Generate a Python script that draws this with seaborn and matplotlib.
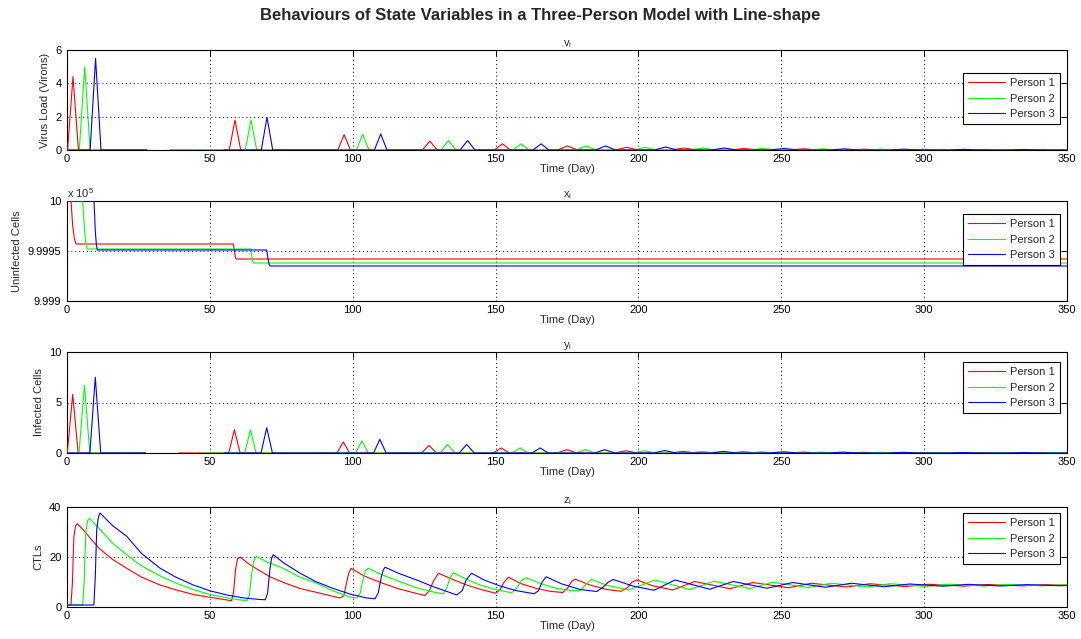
import pandas as pd
import matplotlib
matplotlib.use("Agg")
import matplotlib.pyplot as plt
from matplotlib.lines import Line2D
import seaborn as sns

# ---------------------------------------------------------------- data
persons = ["Person 1", "Person 2", "Person 3"]
colors = ["#ff0000", "#00ff00", "#0000ff"]
x_ticks = [0, 50, 100, 150, 200, 250, 300, 350]

# virus load v_i : spike times (day) and heights
v_t_p1 = [2.1, 58.8, 97.0, 127.0, 152.4, 175.2, 195.9, 216.0, 237.0, 258.0, 279.0, 300.0, 321.0, 342.0]
v_h_p1 = [4.4, 1.8, 0.92, 0.53, 0.37, 0.24, 0.16, 0.12, 0.09, 0.07, 0.05, 0.04, 0.03, 0.03]
v_t_p2 = [6.2, 64.4, 103.5, 133.5, 158.9, 181.7, 202.3, 222.5, 243.5, 264.5, 285.0, 306.0, 327.0, 346.0]
v_h_p2 = [5.0, 1.8, 0.94, 0.57, 0.37, 0.24, 0.16, 0.12, 0.09, 0.07, 0.05, 0.04, 0.03, 0.03]
v_t_p3 = [10.0, 70.0, 109.8, 140.2, 165.9, 188.5, 209.5, 230.0, 251.0, 272.0, 293.0, 314.0, 335.0]
v_h_p3 = [5.5, 1.96, 0.96, 0.57, 0.37, 0.24, 0.18, 0.12, 0.09, 0.07, 0.05, 0.04, 0.03]
v_gaps = [(28.0, 36.0), (28.0, 47.0), (28.0, 55.0)]

# infected cells y_i : spike times (day) and heights
y_t_p1 = [2.0, 58.6, 96.7, 126.7, 152.0, 175.0, 195.6, 215.7, 236.7, 257.7, 278.7, 299.7, 320.7, 341.7]
y_h_p1 = [5.8, 2.3, 1.1, 0.75, 0.5, 0.33, 0.22, 0.16, 0.12, 0.09, 0.07, 0.05, 0.04, 0.04]
y_t_p2 = [6.1, 64.2, 103.2, 133.2, 158.6, 181.4, 202.0, 222.2, 243.2, 264.2, 284.7, 305.7, 326.7, 345.7]
y_h_p2 = [6.7, 2.3, 1.2, 0.85, 0.5, 0.33, 0.22, 0.16, 0.12, 0.09, 0.07, 0.05, 0.04, 0.04]
y_t_p3 = [9.9, 69.9, 109.5, 139.9, 165.6, 188.2, 209.2, 229.7, 250.7, 271.7, 292.7, 313.7, 334.7]
y_h_p3 = [7.5, 2.5, 1.35, 0.85, 0.5, 0.33, 0.24, 0.16, 0.12, 0.09, 0.07, 0.05, 0.04]
y_gaps = [(27.5, 39.0), (27.5, 48.0), (27.5, 55.0)]

# spike half-widths (day) for successive waves
spike_halfwidth = [1.9, 2.0, 2.2, 2.6, 2.8, 3.5, 4.0, 4.5, 5.0, 5.0, 5.0, 5.0, 5.0, 5.0]

# uninfected cells x_i (cells)
x_t_p1 = [0.0, 1.4, 2.0, 2.6, 3.2, 58.2, 58.6, 59.0, 59.3, 350.0]
x_c_p1 = [1000000, 1000000, 999975, 999962, 999957, 999957, 999950, 999943, 999942, 999942]
x_t_p2 = [0.0, 5.5, 6.1, 6.6, 7.1, 64.3, 64.7, 65.0, 65.3, 350.0]
x_c_p2 = [1000000, 1000000, 999972, 999958, 999952, 999952, 999945, 999940, 999938, 999938]
x_t_p3 = [0.0, 9.45, 9.9, 10.3, 10.6, 69.9, 70.3, 70.7, 71.0, 350.0]
x_c_p3 = [1000000, 1000000, 999970, 999956, 999951, 999951, 999943, 999937, 999935, 999935]

# CTLs z_i
z_t_p1 = [0.0, 1.4, 1.9, 2.4, 3.0, 3.6, 6.0, 8.5, 11.5, 16.0, 20.9, 26.0, 32.6, 38.0, 44.2, 50.0,
          56.0, 57.6, 58.3, 59.0, 59.7, 60.6, 64.1, 71.0, 76.0, 81.6, 89.0, 95.6, 96.9, 97.8, 98.6,
          99.4, 104.0, 110.7, 116.0, 122.4, 125.3, 126.8, 128.3, 130.0, 134.0, 139.9, 144.0, 150.0,
          151.6, 153.0, 154.5, 159.0, 164.4, 169.0, 173.5, 175.2, 176.5, 177.8, 183.0, 188.9, 194.0,
          196.2, 197.8, 199.4, 205.0, 212.0, 219.8, 232.0, 240.0, 252.5, 260.5, 273.0, 281.0, 293.5,
          301.5, 314.0, 322.0, 334.5, 342.5, 350.0]
z_v_p1 = [0.8, 0.8, 10.0, 28.0, 32.5, 33.3, 30.5, 27.0, 23.2, 19.0, 15.5, 12.0, 8.8, 6.9, 5.0, 3.9,
          2.8, 2.5, 6.0, 15.0, 19.3, 20.0, 16.8, 12.1, 9.7, 7.4, 5.4, 3.6, 4.5, 9.5, 13.5,
          15.5, 12.4, 9.4, 7.3, 5.4, 4.6, 6.5, 10.5, 13.5, 11.5, 8.8, 7.3, 5.5,
          7.0, 10.0, 11.9, 9.3, 7.4, 6.3, 5.8, 7.5, 10.0, 11.2, 8.8, 7.0, 6.3,
          7.8, 10.0, 10.8, 8.5, 6.8, 10.2, 7.3, 9.8, 7.7, 9.5, 8.0, 9.3, 8.2,
          9.1, 8.35, 9.0, 8.45, 8.9, 8.7]
z_t_p2 = [0.0, 5.5, 6.0, 6.6, 7.2, 7.8, 9.5, 11.55, 16.0, 20.9, 26.0, 32.6, 38.0, 44.2, 50.0, 55.9,
          60.0, 63.0, 63.8, 64.6, 65.4, 66.3, 70.0, 75.7, 81.0, 87.4, 93.0, 99.0, 101.4, 102.6, 103.6,
          104.5, 105.5, 110.0, 116.6, 122.0, 128.2, 131.7, 132.9, 134.0, 135.2, 140.0, 144.6, 150.0,
          155.6, 157.4, 159.0, 160.7, 166.0, 171.4, 176.0, 179.6, 181.6, 183.6, 189.0, 196.5, 205.8,
          218.0, 226.5, 239.0, 247.0, 259.5, 267.5, 280.0, 288.0, 300.5, 308.5, 321.0, 329.0, 341.5,
          349.5, 350.0]
z_v_p2 = [0.8, 0.8, 10.0, 30.0, 34.5, 35.4, 33.5, 31.0, 25.5, 20.9, 16.5, 12.4, 9.6, 7.0, 5.0, 3.7,
          2.9, 2.6, 4.5, 13.0, 18.5, 20.3, 18.0, 15.5, 12.2, 9.5, 6.5, 4.0, 3.6, 5.5, 11.0,
          14.5, 15.5, 13.0, 10.1, 7.8, 6.0, 5.3, 7.5, 11.5, 13.7, 11.0, 8.8, 7.0,
          5.7, 7.5, 10.5, 11.7, 9.3, 7.4, 6.7, 6.5, 9.0, 11.0, 8.7, 6.8, 10.8,
          7.0, 10.3, 7.4, 9.9, 7.8, 9.5, 8.05, 9.3, 8.25, 9.1, 8.4, 9.0, 8.5,
          8.9, 8.9]
z_t_p3 = [0.0, 9.4, 9.9, 10.4, 11.0, 11.55, 16.0, 20.9, 26.0, 32.6, 38.0, 44.2, 50.0, 55.9, 62.0,
          67.6, 69.4, 70.2, 71.0, 71.6, 72.2, 76.0, 81.6, 87.0, 93.2, 99.0, 104.9, 107.8, 108.9,
          110.0, 110.7, 111.3, 116.0, 122.4, 128.0, 133.0, 136.4, 138.3, 139.8, 141.6, 146.0, 151.6,
          157.0, 163.5, 165.0, 166.3, 167.7, 173.0, 179.6, 185.4, 187.5, 189.5, 191.2, 198.0, 205.5,
          212.8, 225.0, 233.2, 245.0, 254.0, 265.5, 274.5, 286.0, 295.0, 306.5, 315.5, 327.0, 336.0,
          347.5, 350.0]
z_v_p3 = [0.8, 0.8, 12.0, 31.0, 36.0, 37.6, 32.5, 28.3, 21.5, 15.5, 12.0, 8.8, 6.5, 4.8, 3.6,
          3.0, 2.9, 5.5, 15.0, 19.5, 20.9, 17.5, 13.5, 10.2, 7.4, 5.2, 3.6, 3.3, 5.5,
          12.0, 14.8, 15.9, 13.5, 10.8, 8.2, 6.2, 4.8, 6.5, 11.0, 13.5, 10.8, 8.4,
          6.6, 5.3, 6.5, 10.0, 12.1, 9.3, 7.0, 6.2, 7.8, 10.0, 11.0, 8.4, 6.7,
          10.8, 7.1, 10.2, 7.5, 9.8, 7.9, 9.5, 8.1, 9.2, 8.3, 9.05, 8.4, 8.95,
          8.5, 8.6]

T_END = 350.0


# ---------------------------------------------------------------- helpers
def spike_segments(times, heights, gap):
    """Baseline with triangular spikes, broken where the record is missing."""
    seg_a = [(0.0, 0.0)]
    seg_b = [(gap[1], 0.0)]
    for k, (tp, h) in enumerate(zip(times, heights)):
        w = spike_halfwidth[k]
        tri = [(tp - w, 0.0), (tp, h), (tp + w, 0.0)]
        (seg_a if tp < gap[0] else seg_b).extend(tri)
    seg_a.append((gap[0], 0.0))
    if seg_b[-1][0] < T_END:
        seg_b.append((T_END, 0.0))
    return [seg_a, seg_b]


def frame_from_segments(seg_lists):
    rows = []
    for person, segs in zip(persons, seg_lists):
        for s, seg in enumerate(segs):
            for t, val in seg:
                rows.append({"t": t, "val": val, "person": person, "seg": f"{person}-{s}"})
    return pd.DataFrame(rows)


def frame_from_series(ts, vs, scale=1.0):
    rows = []
    for person, t_arr, v_arr in zip(persons, ts, vs):
        for t, val in zip(t_arr, v_arr):
            rows.append({"t": t, "val": val / scale, "person": person, "seg": person})
    return pd.DataFrame(rows)


df_v = frame_from_segments([
    spike_segments(v_t_p1, v_h_p1, v_gaps[0]),
    spike_segments(v_t_p2, v_h_p2, v_gaps[1]),
    spike_segments(v_t_p3, v_h_p3, v_gaps[2]),
])
df_y = frame_from_segments([
    spike_segments(y_t_p1, y_h_p1, y_gaps[0]),
    spike_segments(y_t_p2, y_h_p2, y_gaps[1]),
    spike_segments(y_t_p3, y_h_p3, y_gaps[2]),
])
df_x = frame_from_series([x_t_p1, x_t_p2, x_t_p3], [x_c_p1, x_c_p2, x_c_p3], scale=1e5)
df_z = frame_from_series([z_t_p1, z_t_p2, z_t_p3], [z_v_p1, z_v_p2, z_v_p3])

# ---------------------------------------------------------------- style
sns.set_style("white")
plt.rcParams["font.family"] = ["Liberation Sans", "DejaVu Sans"]
plt.rcParams["mathtext.fontset"] = "custom"
plt.rcParams["mathtext.rm"] = "Liberation Sans"
plt.rcParams["mathtext.it"] = "Liberation Sans"

fig = plt.figure(figsize=(10.81, 6.39), dpi=100)
fig.suptitle("Behaviours of State Variables in a Three-Person Model with Line-shape",
             fontsize=12, fontweight="bold", y=0.988)

left, width = 67 / 1081, 1000 / 1081
panels = [
    # (df, top px, bottom px, title, ylabel, ylim, yticks, yticklabels, legend top frac)
    (df_v, 50, 150, "v$_\\mathrm{i}$", "Virus Load (Virons)", (0, 6), [0, 2, 4, 6], ["0", "2", "4", "6"], 0.77),
    (df_x, 201, 301, "x$_\\mathrm{i}$", "Uninfected Cells", (9.999, 10.0), [9.999, 9.9995, 10.0],
     ["9.999", "9.9995", "10"], 0.87),
    (df_y, 352, 453, "y$_\\mathrm{i}$", "Infected Cells", (0, 10), [0, 5, 10], ["0", "5", "10"], 0.90),
    (df_z, 507, 607, "z$_\\mathrm{i}$", "CTLs", (0, 40), [0, 20, 40], ["0", "20", "40"], 0.94),
]

palette = dict(zip(persons, colors))
handles = [Line2D([], [], color=c, lw=0.8) for c in colors]

for df, top, bot, title, ylabel, ylim, yt, ytl, leg_top in panels:
    ax = fig.add_axes([left, 1 - bot / 639, width, (bot - top) / 639])
    sns.lineplot(data=df, x="t", y="val", hue="person", units="seg", estimator=None,
                 sort=False, palette=palette, hue_order=persons, legend=False,
                 linewidth=0.8, zorder=3, ax=ax)
    ax.set_xlim(0, 350)
    ax.set_ylim(*ylim)
    ax.set_xticks(x_ticks)
    ax.set_xticklabels([str(v) for v in x_ticks])
    ax.set_yticks(yt)
    ax.set_yticklabels(ytl)
    ax.grid(True, linestyle=(0, (1, 3)), color="black", linewidth=0.7)
    ax.tick_params(direction="in", top=True, right=True, length=4, width=0.7,
                   labelsize=8, colors="black")
    ax.tick_params(axis="y", pad=4)
    ax.tick_params(axis="x", pad=3)
    for sp in ax.spines.values():
        sp.set_color("black")
        sp.set_linewidth(0.8)
    ax.set_title(title, fontsize=8, pad=3)
    ax.set_xlabel("Time (Day)", fontsize=8, labelpad=0)
    ax.set_ylabel(ylabel, fontsize=8, labelpad=4)
    if ylabel == "Uninfected Cells":
        ax.text(0.0, 1.01, "x 10$^{5}$", transform=ax.transAxes, fontsize=8,
                ha="left", va="bottom")
    leg = ax.legend(handles, persons, loc="upper right", bbox_to_anchor=(0.993, leg_top),
                    fontsize=8, frameon=True, fancybox=False, framealpha=1,
                    edgecolor="black", handlelength=3.3, handletextpad=0.5,
                    labelspacing=0.5, borderpad=0.45, borderaxespad=0)
    leg.get_frame().set_linewidth(0.8)

fig.savefig("out.png", dpi=100)
